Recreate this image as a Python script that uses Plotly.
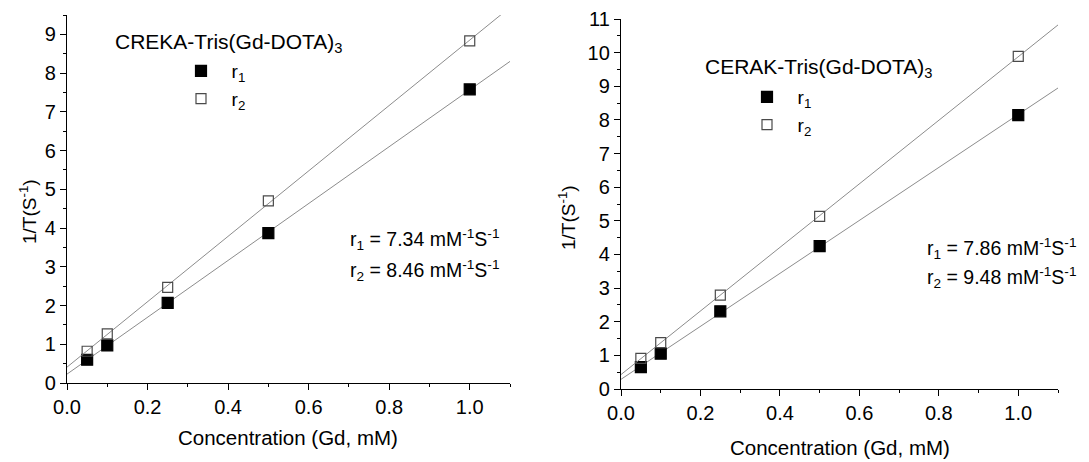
import numpy as np
import plotly.graph_objects as go

W, H = 1089, 462

# ---------------- data ----------------
conc = [0.05, 0.1, 0.25, 0.5, 1.0]

creka_r1 = [0.60, 0.97, 2.07, 3.87, 7.58]
creka_r2 = [0.82, 1.27, 2.47, 4.70, 8.83]

cerak_r1 = [0.65, 1.05, 2.31, 4.25, 8.14]
cerak_r2 = [0.91, 1.38, 2.79, 5.13, 9.89]

fit_x = [0.0, 1.15]

left_title = "CREKA-Tris(Gd-DOTA)<sub>3</sub>"
right_title = "CERAK-Tris(Gd-DOTA)<sub>3</sub>"
left_rel = ["r<sub>1</sub> = 7.34 mM<sup>-1</sup>S<sup>-1</sup>",
            "r<sub>2</sub> = 8.46 mM<sup>-1</sup>S<sup>-1</sup>"]
right_rel = ["r<sub>1</sub> = 7.86 mM<sup>-1</sup>S<sup>-1</sup>",
             "r<sub>2</sub> = 9.48 mM<sup>-1</sup>S<sup>-1</sup>"]
series_names = ["\u00a0\u00a0r<sub>1</sub>", "\u00a0\u00a0r<sub>2</sub>"]
xtitle = "Concentration (Gd, mM)"
ytitle = "1/T(S<sup>-1</sup>)"

FONT = "Arial, Liberation Sans, sans-serif"
FS = 19
TFS = 20
LINE_C = "#8c8c8c"


def px(x):
    return x / W


def py(y):
    return 1 - y / H


fig = go.Figure()


def add_panel(xa, ya, legend, r1, r2):
    for vals, name, filled in [(r1, series_names[0], True), (r2, series_names[1], False)]:
        k, b = np.polyfit(conc, vals, 1)
        fx = np.array(fit_x)
        fig.add_trace(go.Scatter(
            x=fx, y=k * fx + b, mode="lines", xaxis=xa, yaxis=ya,
            line=dict(color=LINE_C, width=1), showlegend=False, hoverinfo="skip"))
        fig.add_trace(go.Scatter(
            x=conc, y=vals, mode="markers", name=name, xaxis=xa, yaxis=ya,
            legend=legend,
            marker=dict(symbol="square" if filled else "square-open",
                        size=11 if filled else 10,
                        color="black" if filled else "#4a4a4a",
                        line=dict(width=1.2, color="black" if filled else "#4a4a4a"))))


add_panel("x", "y", "legend", creka_r1, creka_r2)
add_panel("x2", "y2", "legend2", cerak_r1, cerak_r2)

axis_common = dict(
    showline=True, linecolor="black", linewidth=1.3, ticks="outside",
    ticklen=6, tickwidth=1.2, tickcolor="black", showgrid=False, zeroline=False,
    automargin=False,
    tickfont=dict(family=FONT, size=TFS, color="black"),
    minor=dict(ticks="outside", ticklen=3, tickcolor="black", tickwidth=1, showgrid=False),
)

fig.update_layout(
    template="none",
    width=W, height=H,
    margin=dict(l=0, r=0, t=0, b=0, pad=0),
    paper_bgcolor="white", plot_bgcolor="white",
    font=dict(family=FONT, size=FS, color="black"),
    xaxis=dict(domain=[px(67), px(510)], range=[0, 1.1], dtick=0.2, tickformat=".1f",
               anchor="y", **axis_common),
    yaxis=dict(domain=[py(383), py(15)], range=[0, 9.5], dtick=1, anchor="x",
               **axis_common),
    xaxis2=dict(domain=[px(621), px(1058)], range=[0, 1.1], dtick=0.2, tickformat=".1f",
                anchor="y2", **axis_common),
    yaxis2=dict(domain=[py(389), py(19)], range=[0, 11], dtick=1, anchor="x2",
                **axis_common),
    legend=dict(x=px(181), y=py(52), xanchor="left", yanchor="top",
                bgcolor="rgba(0,0,0,0)", font=dict(family=FONT, size=FS),
                tracegroupgap=0, itemwidth=30),
    legend2=dict(x=px(747), y=py(78), xanchor="left", yanchor="top",
                 bgcolor="rgba(0,0,0,0)", font=dict(family=FONT, size=FS),
                 tracegroupgap=0, itemwidth=30),
)
fig.update_xaxes(minor_dtick=0.1)
fig.update_yaxes(minor_dtick=0.5)

ann = []


def text(x, y, t, xanchor="left", angle=0, size=FS):
    ann.append(dict(x=px(x), y=py(y), xref="paper", yref="paper", text=t,
                    showarrow=False, xanchor=xanchor, yanchor="middle",
                    textangle=angle, font=dict(family=FONT, size=size, color="black")))


text(113, 43, left_title, size=21)
text(703, 68, right_title, size=21)
text(348, 240, left_rel[0], size=19.5)
text(348, 270, left_rel[1], size=19.5)
text(925, 248, right_rel[0], size=19.5)
text(925, 277, right_rel[1], size=19.5)
text(288, 437, xtitle, xanchor="center", size=20.5)
text(840, 447, xtitle, xanchor="center", size=20.5)
text(28, 212, ytitle, xanchor="center", angle=-90)
text(567, 218, ytitle, xanchor="center", angle=-90)

fig.update_layout(annotations=ann)

fig.write_html("out.html")
